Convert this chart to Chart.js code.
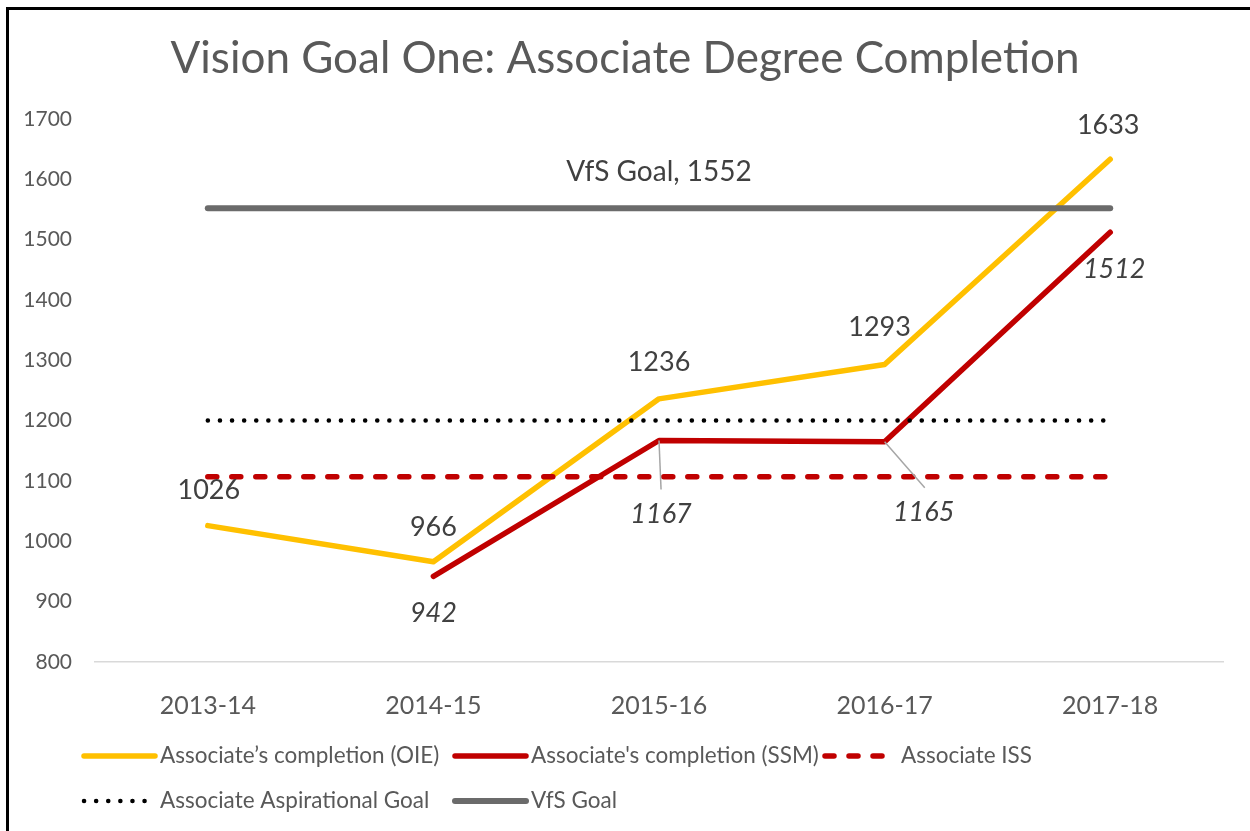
<!DOCTYPE html>
<html>
<head>
<meta charset="utf-8">
<script src="https://cdn.jsdelivr.net/npm/chart.js@4.4.1/dist/chart.umd.min.js"></script>
<style>
  html, body { margin: 0; padding: 0; background: #fff; overflow: hidden; }
  #wrap { position: relative; width: 1250px; height: 831px; }
  #frame { position: absolute; left: 6px; top: 7px; width: 1300px; height: 900px;
           border-left: 3px solid #000; border-top: 3px solid #000; pointer-events: none; }
</style>
</head>
<body>
<div id="wrap">
  <canvas id="chart" width="1250" height="831"></canvas>
  <div id="frame"></div>
</div>
<script>
// Dados do gráfico
const years = ['2013-14', '2014-15', '2015-16', '2016-17', '2017-18'];
const oieCompletion = [1026, 966, 1236, 1293, 1633];
const ssmCompletion = [null, 942, 1167, 1165, 1512];
const issValues = [1107, 1107, 1107, 1107, 1107];
const aspirationalGoal = [1200, 1200, 1200, 1200, 1200];
const vfsGoal = [1552, 1552, 1552, 1552, 1552];
const yTicks = [800, 900, 1000, 1100, 1200, 1300, 1400, 1500, 1600, 1700];

const FONT = 'Lato, "Open Sans", sans-serif';
const TEXT_GRAY = '#595959';
const LABEL_GRAY = '#404040';

// Plugin para os rótulos de dados (valores e linhas de chamada)
const dataLabels = {
    id: 'dataLabels',
    afterDatasetsDraw(chart) {
        const ctx = chart.ctx;
        ctx.save();
        ctx.textAlign = 'center';
        ctx.textBaseline = 'middle';
        ctx.fillStyle = LABEL_GRAY;

        // OIE: valores acima dos pontos
        ctx.font = '27px ' + FONT;
        const oieMeta = chart.getDatasetMeta(0);
        const oieShift = [[1, -35], [0, -35], [0, -37], [-5, -37], [-2, -34]];
        oieMeta.data.forEach((pt, i) => {
            ctx.fillText(String(oieCompletion[i]), pt.x + oieShift[i][0], pt.y + oieShift[i][1]);
        });

        // SSM: valores em itálico abaixo, com linhas de chamada
        ctx.font = 'italic 27px ' + FONT;
        const ssmMeta = chart.getDatasetMeta(1);
        const ssmShift = [null, [0, 37], [2, 74], [39, 71], [4, 37]];
        ssmMeta.data.forEach((pt, i) => {
            if (ssmCompletion[i] === null) return;
            const [dx, dy] = ssmShift[i];
            if (dy > 50) {
                ctx.strokeStyle = '#a6a6a6';
                ctx.lineWidth = 1.5;
                ctx.beginPath();
                ctx.moveTo(pt.x, pt.y);
                ctx.lineTo(pt.x + dx * 1.03, pt.y + dy - 25);
                ctx.stroke();
            }
            ctx.fillText(String(ssmCompletion[i]), pt.x + dx, pt.y + dy);
        });

        // Rótulo da meta VfS
        ctx.font = '28px ' + FONT;
        const vfsMeta = chart.getDatasetMeta(4);
        const mid = vfsMeta.data[2];
        ctx.fillText('VfS Goal, ' + vfsGoal[2], mid.x, mid.y - 36);
        ctx.restore();
    }
};

// Plugin para a legenda em grade (estilo Excel)
const gridLegend = {
    id: 'gridLegend',
    afterDraw(chart) {
        const ctx = chart.ctx;
        const cols = [82, 453, 823];
        const rows = [756, 801];
        ctx.save();
        ctx.font = '22.5px ' + FONT;
        ctx.textBaseline = 'middle';
        ctx.textAlign = 'left';
        chart.data.datasets.forEach((ds, i) => {
            const x = cols[i % 3];
            const y = rows[Math.floor(i / 3)];
            ctx.strokeStyle = ds.borderColor;
            ctx.lineWidth = ds.borderWidth;
            ctx.lineCap = 'round';
            ctx.setLineDash(ds.borderDash || []);
            ctx.beginPath();
            ctx.moveTo(x + 2, y);
            ctx.lineTo(x + 73, y);
            ctx.stroke();
            ctx.setLineDash([]);
            ctx.fillStyle = TEXT_GRAY;
            ctx.fillText(ds.label, x + 78, y);
        });
        ctx.restore();
    }
};

const lineBase = { pointRadius: 0, pointHoverRadius: 0, tension: 0, borderCapStyle: 'round', borderJoinStyle: 'round', fill: false };

new Chart(document.getElementById('chart'), {
    type: 'line',
    data: {
        labels: years,
        datasets: [
            Object.assign({ label: 'Associate’s completion (OIE)', data: oieCompletion, borderColor: '#FFC000', borderWidth: 5.5, order: 5 }, lineBase),
            Object.assign({ label: "Associate's completion (SSM)", data: ssmCompletion, borderColor: '#C00000', borderWidth: 5.5, order: 4 }, lineBase),
            Object.assign({ label: 'Associate ISS', data: issValues, borderColor: '#C00000', borderWidth: 5.5, borderDash: [9, 15], order: 3 }, lineBase),
            Object.assign({ label: 'Associate Aspirational Goal', data: aspirationalGoal, borderColor: '#000000', borderWidth: 4.5, borderDash: [0.1, 12], order: 2 }, lineBase),
            Object.assign({ label: 'VfS Goal', data: vfsGoal, borderColor: '#6B6B6B', borderWidth: 6, order: 1 }, lineBase)
        ]
    },
    options: {
        responsive: false,
        animation: false,
        events: [],
        layout: { padding: 0 },
        plugins: {
            legend: { display: false },
            tooltip: { enabled: false },
            title: {
                display: true,
                text: 'Vision Goal One: Associate Degree Completion',
                color: TEXT_GRAY,
                font: { family: FONT, size: 44, weight: 'normal', lineHeight: 1.2 },
                padding: { top: 32, bottom: 34 }
            }
        },
        scales: {
            x: {
                offset: true,
                grid: { display: false },
                border: { display: true, color: '#d9d9d9', width: 1.5 },
                ticks: { color: TEXT_GRAY, font: { family: FONT, size: 25 }, padding: 21 },
                afterFit(scale) { scale.height = 169; }
            },
            y: {
                min: 800,
                max: 1700,
                grid: { display: false },
                border: { display: false },
                afterBuildTicks(scale) { scale.ticks = yTicks.map(v => ({ value: v })); },
                ticks: {
                    color: TEXT_GRAY,
                    font: { family: FONT, size: 21 },
                    padding: 15,
                    callback: (v) => String(v)
                },
                afterFit(scale) { scale.width = 95; }
            },
            // eixo vazio à direita só para reservar a margem
            yRight: {
                position: 'right',
                grid: { display: false },
                border: { display: false },
                ticks: { display: false },
                afterFit(scale) { scale.width = 27; }
            }
        }
    },
    plugins: [dataLabels, gridLegend]
});
</script>
</body>
</html>
